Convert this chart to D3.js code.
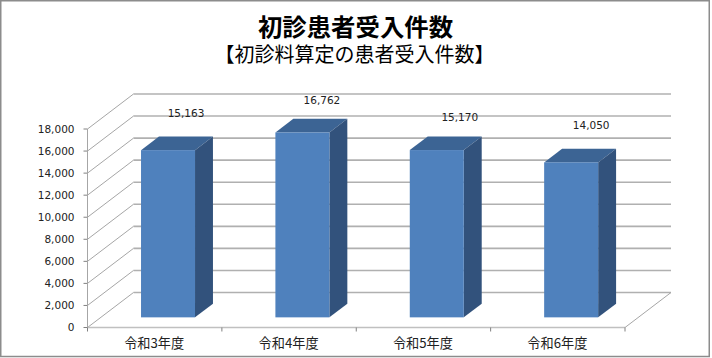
<!DOCTYPE html>
<html>
<head>
<meta charset="utf-8">
<script src="https://d3js.org/d3.v7.min.js"></script>
<style>
  html, body { margin: 0; padding: 0; background: #fff; }
  svg { display: block; }
  text { font-family: "Noto Sans CJK JP", "Noto Sans", sans-serif; }
  .num { font-family: "DejaVu Sans", sans-serif; font-size: 10.5px; fill: #222; }
</style>
</head>
<body>
<div id="chart"></div>
<script>
// data
const categories = ["令和3年度", "令和4年度", "令和5年度", "令和6年度"];
const values = [15163, 16762, 15170, 14050];
const valueLabels = ["15,163", "16,762", "15,170", "14,050"];
const yTicks = [0, 2000, 4000, 6000, 8000, 10000, 12000, 14000, 16000, 18000];
const titleText = "初診患者受入件数";
const subtitleText = "【初診料算定の患者受入件数】";

const width = 712, height = 358;

const svg = d3.select("#chart").append("svg")
  .attr("width", width)
  .attr("height", height);

// outer frame
svg.append("rect")
  .attr("x", 0.75).attr("y", 0.75)
  .attr("width", 708.5).attr("height", 355.75)
  .attr("fill", "#fff")
  .attr("stroke", "#8c8c8c")
  .attr("stroke-width", 1.5);

// scales for the front plane of the fake 3d box
const x = d3.scaleBand().domain(categories).range([87.5, 625]);
const y = d3.scaleLinear().domain([0, 18000]).range([327.5, 129]);

// depth: 0 = front of the box, 1 = back wall
const depthX = d3.scaleLinear().domain([0, 1]).range([0, 46]);
const depthY = d3.scaleLinear().domain([0, 1]).range([0, -35]);
const barDepth = [0.29, 0.68];
const barWidth = 54;

// walls
const wall = svg.append("g")
  .attr("fill", "none");

yTicks.forEach(t => {
  // back wall line
  wall.append("line")
    .attr("x1", 87.5 + depthX(1)).attr("x2", 625 + depthX(1))
    .attr("y1", y(t) + depthY(1)).attr("y2", y(t) + depthY(1))
    .attr("stroke", "#b0b0b0")
    .attr("stroke-width", 1.6);
  // side wall line
  wall.append("line")
    .attr("x1", 87.5).attr("x2", 87.5 + depthX(1))
    .attr("y1", y(t)).attr("y2", y(t) + depthY(1))
    .attr("stroke", "#a6a6a6");
  // tick
  wall.append("line")
    .attr("x1", 83.5).attr("x2", 87.5)
    .attr("y1", y(t)).attr("y2", y(t))
    .attr("stroke", "#808080");
});

// floor right edge
wall.append("line")
  .attr("x1", 625).attr("x2", 625 + depthX(1))
  .attr("y1", y(0)).attr("y2", y(0) + depthY(1))
  .attr("stroke", "#a6a6a6");

// y axis line and floor front edge
wall.append("line")
  .attr("x1", 87.5).attr("x2", 87.5)
  .attr("y1", y(18000)).attr("y2", y(0))
  .attr("stroke", "#a6a6a6");
wall.append("line")
  .attr("x1", 87.5).attr("x2", 625)
  .attr("y1", y(0)).attr("y2", y(0))
  .attr("stroke", "#c0c0c0")
  .attr("stroke-width", 1.6);

// category ticks
[...categories.map(c => x(c)), 625].forEach(px => {
  wall.append("line")
    .attr("x1", px).attr("x2", px)
    .attr("y1", y(0)).attr("y2", y(0) + 4)
    .attr("stroke", "#808080");
});

// y labels
svg.append("g").selectAll("text")
  .data(yTicks)
  .enter()
  .append("text")
  .attr("class", "num")
  .attr("x", 74.5)
  .attr("y", d => y(d))
  .attr("dy", "0.36em")
  .attr("text-anchor", "end")
  .text(d => d3.format(",")(d));

// x labels
svg.append("g").selectAll("text")
  .data(categories)
  .enter()
  .append("text")
  .attr("x", d => x(d) + x.bandwidth() / 2 - 0.5)
  .attr("y", 343)
  .attr("dy", "0.36em")
  .attr("text-anchor", "middle")
  .attr("font-size", 13.2)
  .attr("fill", "#222")
  .text(d => d);

// bars
const bars = svg.append("g").selectAll("g")
  .data(categories.map((c, i) => ({c: c, v: values[i], label: valueLabels[i]})))
  .enter()
  .append("g");

const frontX = d => x(d.c) + x.bandwidth() / 2 - barWidth / 2 + depthX(barDepth[0]);
const baseY = depthY(barDepth[0]);
const dx = depthX(barDepth[1] - barDepth[0]);
const dy = depthY(barDepth[1] - barDepth[0]);

// top face
bars.append("path")
  .attr("fill", "#3c6494")
  .attr("d", d => {
    const x0 = frontX(d), y0 = y(d.v) + baseY;
    return `M${x0},${y0}L${x0 + barWidth},${y0}L${x0 + barWidth + dx},${y0 + dy}L${x0 + dx},${y0 + dy}Z`;
  });
// side face
bars.append("path")
  .attr("fill", "#32527c")
  .attr("d", d => {
    const x1 = frontX(d) + barWidth, y0 = y(d.v) + baseY, yb = y(0) + baseY;
    return `M${x1},${y0}L${x1 + dx},${y0 + dy}L${x1 + dx},${yb + dy}L${x1},${yb}Z`;
  });
// front face
bars.append("rect")
  .attr("fill", "#4f81bd")
  .attr("x", d => frontX(d))
  .attr("y", d => y(d.v) + baseY)
  .attr("width", barWidth)
  .attr("height", d => y(0) - y(d.v));

// data labels sit where they were dragged in the original, so nudge them by hand
const labelNudgeX = [18, 19.5, 23, 20];
const labelNudgeY = [-37, -32.5, -33, -37];
bars.append("text")
  .attr("class", "num")
  .attr("x", (d, i) => frontX(d) + barWidth / 2 + labelNudgeX[i])
  .attr("y", (d, i) => y(d.v) + baseY + labelNudgeY[i])
  .attr("dy", "0.36em")
  .attr("text-anchor", "middle")
  .text(d => d.label);

// titles
svg.append("text")
  .attr("x", 355.5).attr("y", 27)
  .attr("dy", "0.36em")
  .attr("text-anchor", "middle")
  .attr("font-size", 24.4)
  .attr("font-weight", 700)
  .attr("fill", "#000")
  .text(titleText);
svg.append("text")
  .attr("x", 354.5).attr("y", 55)
  .attr("dy", "0.36em")
  .attr("text-anchor", "middle")
  .attr("font-size", 20)
  .attr("fill", "#000")
  .text(subtitleText);
</script>
</body>
</html>
